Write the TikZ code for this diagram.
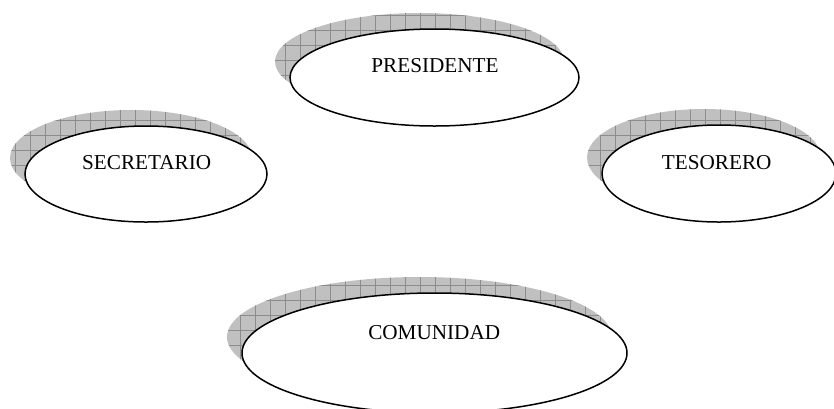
\documentclass[tikz,border=0pt]{standalone}
\usepackage{fontspec}
\setmainfont{Liberation Serif}
\usetikzlibrary{shapes.geometric}
\definecolor{shadowgray}{HTML}{C0C0C0}
\definecolor{gridgray}{HTML}{8C8C8C}
\tikzset{
	role/.style={draw=black, line width=1.5pt, fill=white, ellipse, inner sep=0pt},
	rolename/.style={inner sep=0pt, font=\fontsize{21.2}{24}\selectfont},
}
\def\roleshadow(#1,#2)(#3:#4){%
	\begin{scope}
		\clip (#1-15,#2-16) ellipse (#3pt and #4pt);
		\fill[shadowgray] (#1-#3-30,#2+#4+30) rectangle (#1+#3+30,#2-#4-30);
		\draw[gridgray, line width=0.6pt, step=15pt] (#1-#3-30,#2+#4+30) grid (#1+#3+30,#2-#4-30);
	\end{scope}}

\begin{document}
\begin{tikzpicture}[x=1pt,y=-1pt]
				\useasboundingbox (0,0) rectangle (834,408);
				
				\roleshadow(434.5,77.5)(144.5:48.5)
				\node[role, minimum width=289pt, minimum height=97pt] (pres) at (434.5,77.5) {};
				\node[rolename] (presname) at (435,65.5) {PRESIDENTE};
				
				\roleshadow(146,174)(121:48)
				\node[role, minimum width=242pt, minimum height=96pt] (secr) at (146,174) {};
				\node[rolename] (secrname) at (146.7,162.5) {SECRETARIO};
				
				\roleshadow(719,173.5)(117:48.5)
				\node[role, minimum width=234pt, minimum height=97pt] (teso) at (719,173.5) {};
				\node[rolename] (tesoname) at (716.7,162.5) {TESORERO};
				
				\roleshadow(434.5,353)(192.5:60)
				\node[role, minimum width=385pt, minimum height=120pt] (comu) at (434.5,353) {};
				\node[rolename] (comuname) at (434.2,332.5) {COMUNIDAD};
			\end{tikzpicture}
\end{document}
